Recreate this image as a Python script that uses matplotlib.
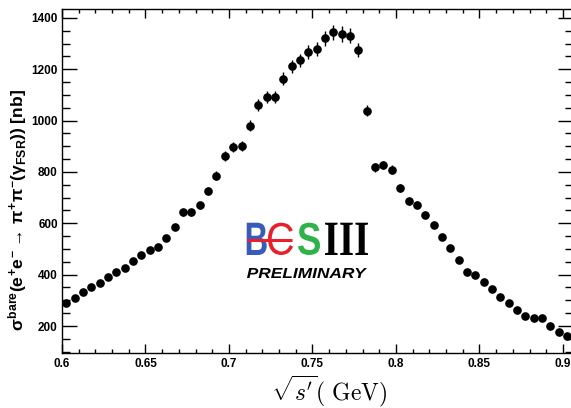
import matplotlib
matplotlib.use("Agg")
import matplotlib.pyplot as plt
from matplotlib.textpath import TextPath
from matplotlib.patches import PathPatch
from matplotlib.font_manager import FontProperties
from matplotlib.transforms import Affine2D
from matplotlib.ticker import MultipleLocator

# bin centres (GeV)
energy = [0.6025, 0.6075, 0.6125, 0.6175, 0.6225, 0.6275, 0.6325, 0.6375,
          0.6425, 0.6475, 0.6525, 0.6575, 0.6625, 0.6675, 0.6725, 0.6775,
          0.6825, 0.6875, 0.6925, 0.6975, 0.7025, 0.7075, 0.7125, 0.7175,
          0.7225, 0.7275, 0.7325, 0.7375, 0.7425, 0.7475, 0.7525, 0.7575,
          0.7625, 0.7675, 0.7725, 0.7775, 0.7825, 0.7875, 0.7925, 0.7975,
          0.8025, 0.8075, 0.8125, 0.8175, 0.8225, 0.8275, 0.8325, 0.8375,
          0.8425, 0.8475, 0.8525, 0.8575, 0.8625, 0.8675, 0.8725, 0.8775,
          0.8825, 0.8875, 0.8925, 0.8975, 0.9025]

# bare cross section (nb)
xsec = [289, 308, 333, 353, 369, 390, 409, 427, 453, 478, 497, 509,
        543, 585, 643, 643, 670, 726, 786, 861, 897, 901, 980, 1062,
        1091, 1092, 1163, 1212, 1235, 1269, 1280, 1321, 1344, 1338, 1331, 1274,
        1039, 818, 827, 809, 739, 686, 672, 631, 592, 548, 503, 457,
        411, 398, 370, 344, 314, 289, 261, 240, 233, 230, 200, 178, 162]

xsec_err = [5, 5, 6, 6, 6, 7, 7, 7, 8, 8, 9, 9,
            10, 11, 14, 14, 14, 16, 17, 19, 20, 20, 22, 23,
            24, 24, 25, 26, 26, 27, 28, 29, 30, 30, 29, 28,
            22, 17, 17, 17, 16, 14, 13, 12, 11, 10, 9, 8,
            7, 7, 7, 6, 6, 5, 5, 5, 5, 5, 4, 4, 4]

plt.rcParams["mathtext.fontset"] = "custom"
plt.rcParams["mathtext.rm"] = "Liberation Sans:bold"
plt.rcParams["mathtext.it"] = "Liberation Sans:bold"
plt.rcParams["mathtext.bf"] = "Liberation Sans:bold"

W, H = 571, 408
fig = plt.figure(figsize=(W / 100, H / 100), dpi=100)
ax = fig.add_axes([62 / W, (H - 352.7) / H, 511 / W, 344 / H])

ax.errorbar(energy, xsec, yerr=xsec_err, fmt="o", color="black",
            ms=5.2, elinewidth=1.0, capsize=0)

ax.set_xlim(0.6, 0.906)
ax.set_ylim(96, 1436)
ax.xaxis.set_minor_locator(MultipleLocator(0.01))
ax.yaxis.set_major_locator(MultipleLocator(200))
ax.yaxis.set_minor_locator(MultipleLocator(50))
ax.set_xticks([0.6, 0.65, 0.7, 0.75, 0.8, 0.85, 0.9])
ax.set_xticklabels(["0.6", "0.65", "0.7", "0.75", "0.8", "0.85", "0.9"])

ax.tick_params(axis="both", which="both", direction="in", top=True, right=True,
               width=1.0, labelsize=8.5)
ax.tick_params(axis="y", which="major", length=10.8, pad=3)
ax.tick_params(axis="y", which="minor", length=5.8)
ax.tick_params(axis="x", which="major", length=6.5, pad=4)
ax.tick_params(axis="x", which="minor", length=3.2)
for lab in ax.get_xticklabels() + ax.get_yticklabels():
    lab.set_fontfamily("Liberation Sans")
    lab.set_fontweight("bold")
for sp in ax.spines.values():
    sp.set_linewidth(1.0)

fig.text(18 / W, 1 - 210 / H,
         r"$\sigma^{bare}(e^{+}e^{-}\rightarrow\,\pi^{+}\pi^{-}(\gamma_{FSR}))$ [nb]",
         rotation=90, ha="center", va="center", fontsize=12.6,
         family="Liberation Sans", weight="bold")
fig.text(329 / W, 1 - 391 / H, r"$\sqrt{s'}(\ \mathrm{GeV})$",
         math_fontfamily="cm", ha="center", va="center", fontsize=17)

# BESIII preliminary logo, pixel coordinates inside a small axes
logo = fig.add_axes([240 / W, (H - 285) / H, 135 / W, 70 / H])
logo.set_xlim(0, 135)
logo.set_ylim(0, 70)
logo.axis("off")


def put_text(s, box, color, prop):
    path = TextPath((0, 0), s, size=10, prop=prop)
    ext = path.get_extents()
    x0, y0, x1, y1 = box
    tr = (Affine2D().translate(-ext.x0, -ext.y0)
          .scale((x1 - x0) / ext.width, (y1 - y0) / ext.height)
          .translate(x0, y0))
    logo.add_patch(PathPatch(tr.transform_path(path), color=color, lw=0))


sans_b = FontProperties(family="Liberation Sans", weight="bold")
sans_r = FontProperties(family="Liberation Sans")
serif_b = FontProperties(family="Liberation Serif", weight="bold")
sans_bi = FontProperties(family="Liberation Sans", weight="bold", style="italic")

put_text("B", (6.7, 30, 26.7, 62.3), "#3a5cb8", sans_b)
put_text("C", (28, 30, 53, 62.3), "#e8202a", sans_r)
put_text("S", (58, 30, 80, 62.3), "#2db34a", sans_b)
put_text("III", (85, 30, 128, 62.3), "black", serif_b)
logo.plot([7, 52], [45, 45], color="#e8202a", lw=2.2, solid_capstyle="butt")
put_text("PRELIMINARY", (7, 7, 127, 17), "black", sans_bi)

fig.savefig("out.png", dpi=100)
